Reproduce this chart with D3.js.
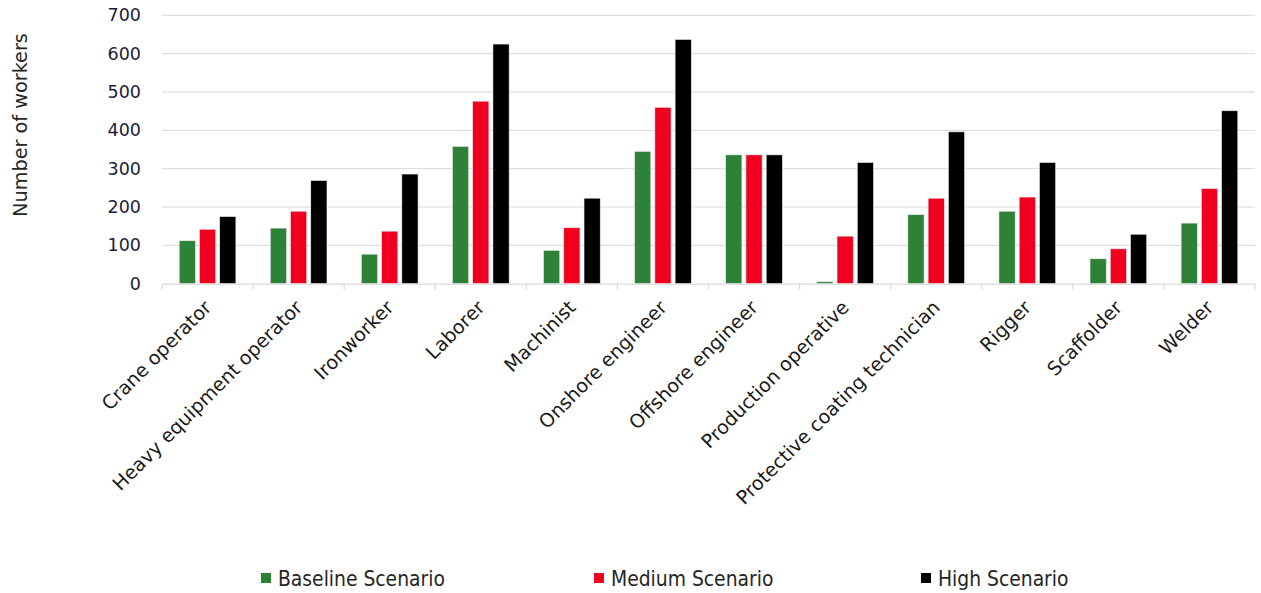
<!DOCTYPE html>
<html>
<head>
<meta charset="utf-8">
<script src="https://cdn.jsdelivr.net/npm/d3@7"></script>
<style>
  html, body { margin: 0; padding: 0; background: #fff; }
  svg { display: block; }
  text { font-family: "DejaVu Sans", Verdana, sans-serif; }
</style>
</head>
<body>
<svg id="chart" width="1261" height="593"></svg>
<script>
const categories = ["Crane operator", "Heavy equipment operator", "Ironworker", "Laborer", "Machinist",
  "Onshore engineer", "Offshore engineer", "Production operative", "Protective coating technician",
  "Rigger", "Scaffolder", "Welder"];
const seriesNames = ["Baseline Scenario", "Medium Scenario", "High Scenario"];
const baseline = [112, 145, 77, 358, 87, 345, 336, 5, 180, 189, 65, 158];
const medium   = [142, 189, 137, 476, 146, 460, 336, 124, 223, 226, 91, 248];
const high     = [175, 269, 286, 625, 223, 637, 336, 316, 396, 316, 129, 451];
const yTicks = [0, 100, 200, 300, 400, 500, 600, 700];
const colors = ["#2E8238", "#F0001E", "#000000"];

const seriesValues = [baseline, medium, high];
const svg = d3.select("#chart");

const plotLeft = 162, plotRight = 1255, plotTop = 15.3, plotBottom = 283.7;
const x = d3.scaleBand().domain(categories).range([plotLeft, plotRight]).paddingInner(0).paddingOuter(0);
const xs = d3.scaleBand().domain(seriesNames).range([0, x.bandwidth()]).paddingInner(0.2).paddingOuter(0.85);
const y = d3.scaleLinear().domain([0, 700]).range([plotBottom, plotTop]);

// gridlines
svg.append("g").selectAll("line").data(yTicks.filter(d => d > 0)).join("line")
  .attr("x1", plotLeft).attr("x2", plotRight)
  .attr("y1", d => y(d)).attr("y2", d => y(d))
  .attr("stroke", "#d9d9d9").attr("stroke-width", 1);

// y axis labels
const yAxis = d3.axisLeft(y).tickValues(yTicks).tickSize(0).tickPadding(21);
const gy = svg.append("g").attr("transform", `translate(${plotLeft},0)`).call(yAxis);
gy.select(".domain").remove();
gy.selectAll("text").attr("font-size", 17.5).attr("fill", "#1c1c3a")
  .style("font-family", '"DejaVu Sans", Verdana, sans-serif');

// bars
const groups = svg.append("g").selectAll("g").data(categories).join("g")
  .attr("transform", d => `translate(${x(d)},0)`);
groups.selectAll("rect").data((c, i) => seriesNames.map((s, k) => ({s, k, v: seriesValues[k][i]})))
  .join("rect")
  .attr("x", d => xs(d.s))
  .attr("width", xs.bandwidth())
  .attr("y", d => y(d.v))
  .attr("height", d => y(0) - y(d.v))
  .attr("fill", d => colors[d.k])
  .attr("stroke", "#e8e8e8").attr("stroke-width", 0.6);

// x axis
const xAxis = d3.axisBottom(x).tickSize(0).tickFormat("");
const gx = svg.append("g").attr("transform", `translate(0,${plotBottom})`).call(xAxis);
gx.select(".domain").attr("stroke", "#d9d9d9").attr("stroke-width", 1.2);
gx.selectAll(".tick").remove();
const tickPos = categories.map(c => x(c)).concat([plotRight]);
gx.selectAll("line.cat").data(tickPos).join("line").attr("class", "cat")
  .attr("x1", d => d).attr("x2", d => d).attr("y1", 0).attr("y2", 6)
  .attr("stroke", "#d9d9d9").attr("stroke-width", 1.2);

// fit helper
function fitSize(text, target, base, family) {
  const t = svg.append("text").attr("font-size", base).text(text);
  if (family) t.style("font-family", family);
  const w = t.node().getComputedTextLength();
  t.remove();
  return base * target / w;
}

const labelSize = fitSize("Heavy equipment operator", 259, 16);
svg.append("g").selectAll("text").data(categories).join("text")
  .attr("transform", d => `translate(${x(d) + x.bandwidth() / 2 + 5},${plotBottom + 25}) rotate(-45)`)
  .attr("text-anchor", "end")
  .attr("font-size", labelSize)
  .attr("fill", "#1a1a1a")
  .text(d => d);

// y title
const titleSize = fitSize("Number of workers", 184, 16);
svg.append("text")
  .attr("transform", `translate(27,125) rotate(-90)`)
  .attr("text-anchor", "middle")
  .attr("font-size", titleSize)
  .attr("fill", "#262626")
  .text("Number of workers");

// legend
const legendFamily = '"DejaVu Sans Condensed", "Liberation Sans Narrow", "DejaVu Sans", sans-serif';
const legendSize = fitSize("Baseline Scenario", 167, 16, legendFamily);
const legendX = [261, 594, 921];
const lg = svg.append("g").selectAll("g").data(seriesNames).join("g")
  .attr("transform", (d, i) => `translate(${legendX[i]},578)`);
lg.append("rect").attr("x", 0).attr("y", -5).attr("width", 10).attr("height", 10)
  .attr("fill", (d, i) => colors[i]);
lg.append("text").attr("x", 17).attr("y", 0).attr("dy", "0.36em")
  .attr("font-size", legendSize).attr("fill", "#262626")
  .style("font-family", legendFamily)
  .text(d => d);
</script>
</body>
</html>
